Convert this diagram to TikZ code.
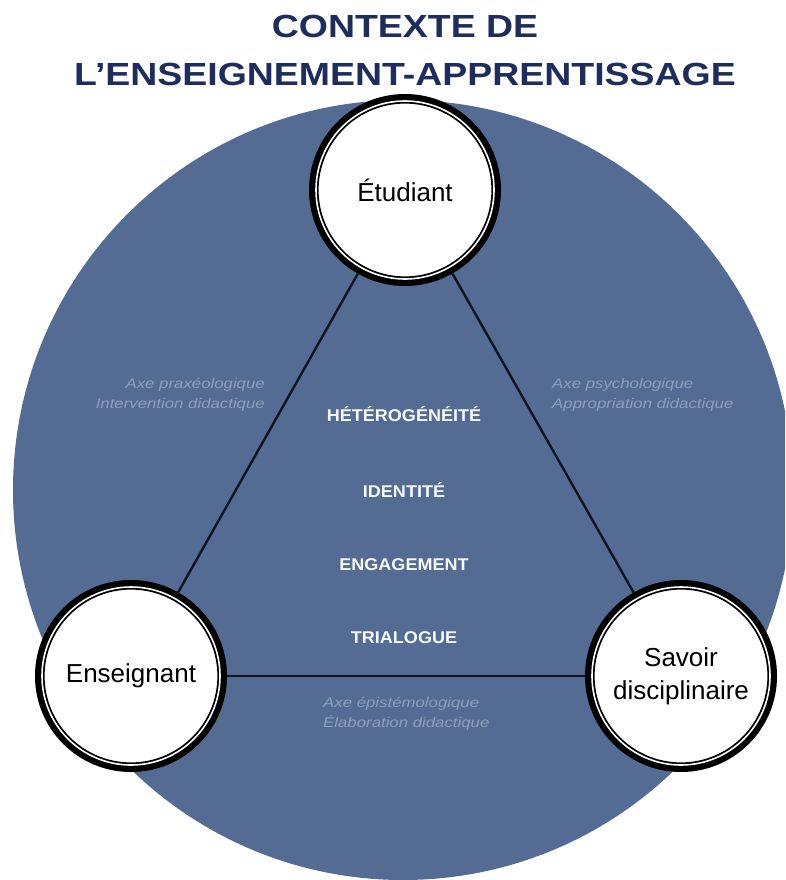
\documentclass[tikz,border=0pt]{standalone}
\usepackage{fontspec}
\setmainfont{Liberation Sans}
\newfontfamily\titrefont[FakeStretch=1.17]{Liberation Sans}
\newfontfamily\axefont[FakeStretch=1.2]{Liberation Sans}
\newfontfamily\themefont[FakeStretch=1.06]{Liberation Sans}

\definecolor{navy}{RGB}{31,45,94}
\definecolor{disque}{RGB}{84,108,148}
\definecolor{axetxt}{RGB}{142,159,189}
\definecolor{trait}{RGB}{16,20,31}

\begin{document}
\begin{tikzpicture}[x=1pt, y=-1pt,
    pole/.style={circle, fill=white, draw=black, line width=1.8pt,
      double=white, double distance=1.6pt,
      preaction={draw=black, line width=14pt},
      minimum size=178pt, inner sep=0pt, outer sep=7pt,
      align=center, font=\fontsize{26}{33}\selectfont},
    axe/.style={text=axetxt, inner sep=0pt,
      font=\axefont\itshape\fontsize{14}{20}\selectfont},
    theme/.style={text=white!95!disque, inner sep=0pt, anchor=base,
      font=\themefont\bfseries\fontsize{17}{20}\selectfont},
    lien/.style={trait, line width=2.4pt}]
  \path[use as bounding box] (0,0) rectangle (785,880);
  \clip (0,0) rectangle (785,880);

  % fond
  \fill[disque] (403,490) circle (390pt);

  \node[text=navy, inner sep=0pt, anchor=north, align=center,
    font=\titrefont\bfseries\fontsize{32}{48}\selectfont] (titre) at (405,15)
    {CONTEXTE DE\\L’ENSEIGNEMENT-APPRENTISSAGE};

  % les trois poles
  \node[pole] (etu) at (405,190) {Étudiant};
  \node[pole] (ens) at (131,676) {Enseignant};
  \node[pole] (sav) at (681,676) {Savoir\\disciplinaire};

  \foreach \a/\b in {etu/ens, ens/sav, sav/etu}
    \draw[lien] (\a) -- (\b);

  % axes
  \node[axe, anchor=north east, align=right] (praxeo) at (265,378)
    {Axe praxéologique\\Intervention didactique};
  \node[axe, anchor=north west, align=left] (psycho) at (552,378)
    {Axe psychologique\\Appropriation didactique};
  \node[axe, anchor=north west, align=left] (episte) at (323,697)
    {Axe épistémologique\\Élaboration didactique};

  % au centre
  \node[theme] (hetero) at (404,421) {HÉTÉROGÉNÉITÉ};
  \node[theme] (ident) at (404,497) {IDENTITÉ};
  \node[theme] (engag) at (404,570) {ENGAGEMENT};
  \node[theme] (trial) at (404,643) {TRIALOGUE};
\end{tikzpicture}
\end{document}
